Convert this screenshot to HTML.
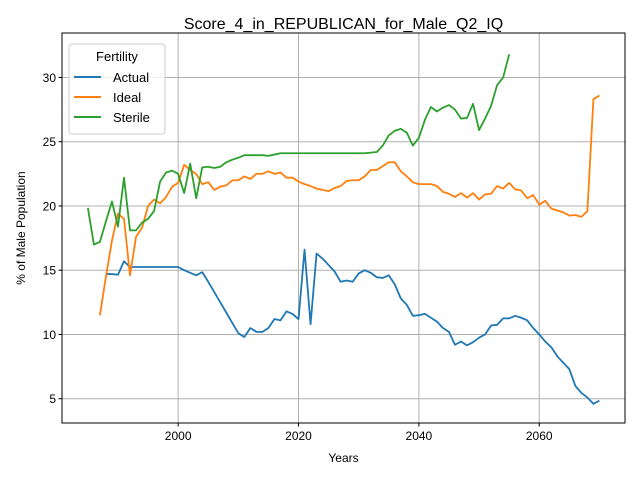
<!DOCTYPE html>
<html><head><meta charset="utf-8"><style>
html,body{margin:0;padding:0;background:#fff;}
svg{display:block;font-family:"Liberation Sans","DejaVu Sans",sans-serif;}
</style></head><body>
<svg id="chart" width="640" height="480" viewBox="0 0 640 480">
<rect width="640" height="480" fill="#fff"/>
<text x="343.5" y="29" text-anchor="middle" font-size="16">Score_4_in_REPUBLICAN_for_Male_Q2_IQ</text>
<g id="grid"></g>
<g id="series"></g>
<rect x="62" y="33" width="563" height="390" fill="none" stroke="#000" stroke-width="1"/>
<g id="ticks"></g>
<text x="343.5" y="462" text-anchor="middle" font-size="12">Years</text>
<text x="0" y="0" transform="translate(25,228) rotate(-90)" text-anchor="middle" font-size="12">% of Male Population</text>
<g>
<rect x="69" y="44" width="96" height="90" rx="3" fill="#fff" fill-opacity="0.8" stroke="#ccc"/>
<text x="117" y="61" text-anchor="middle" font-size="13">Fertility</text>
<line x1="74" y1="77" x2="101" y2="77" stroke="#1f77b4" stroke-width="2"/>
<text x="113" y="82" font-size="13">Actual</text>
<line x1="74" y1="97" x2="101" y2="97" stroke="#ff7f0e" stroke-width="2"/>
<text x="113" y="102" font-size="13">Ideal</text>
<line x1="74" y1="117" x2="101" y2="117" stroke="#2ca02c" stroke-width="2"/>
<text x="113" y="122" font-size="13">Sterile</text>
</g>
</svg>
<script>
const xTicks=[2000,2020,2040,2060];
const yTicks=[5,10,15,20,25,30];
const actualStart=1988;
const actualValues=[14.7,14.7,14.65,15.7,15.25,15.25,15.25,15.25,15.25,15.25,15.25,15.25,15.25,15.0,14.8,14.6,14.85,14.1,13.3,12.5,11.7,10.9,10.1,9.8,10.5,10.2,10.2,10.5,11.2,11.1,11.8,11.6,11.2,16.6,10.8,16.3,15.9,15.4,14.9,14.1,14.2,14.1,14.75,15.0,14.8,14.45,14.4,14.6,13.9,12.8,12.3,11.45,11.5,11.6,11.3,11.0,10.5,10.2,9.2,9.45,9.15,9.4,9.75,10.0,10.7,10.75,11.25,11.25,11.45,11.3,11.1,10.5,10.0,9.45,9.0,8.3,7.8,7.3,6.0,5.45,5.1,4.6,4.85];
const idealStart=1987;
const idealValues=[11.5,14.5,17.3,19.4,19.0,14.6,17.6,18.3,20.0,20.5,20.2,20.7,21.5,21.8,23.2,22.8,22.5,21.7,21.85,21.25,21.5,21.6,22.0,22.0,22.3,22.1,22.5,22.5,22.7,22.5,22.6,22.2,22.2,21.9,21.7,21.55,21.35,21.25,21.15,21.4,21.55,21.95,22.0,22.0,22.3,22.8,22.8,23.1,23.4,23.4,22.7,22.3,21.85,21.7,21.7,21.7,21.55,21.1,20.95,20.7,21.0,20.65,21.0,20.5,20.9,20.95,21.55,21.35,21.8,21.3,21.2,20.6,20.85,20.1,20.4,19.8,19.65,19.5,19.25,19.3,19.15,19.6,28.3,28.6];
const sterileStart=1985;
const sterileValues=[19.85,17.0,17.2,18.8,20.35,18.4,22.2,18.1,18.1,18.7,19.0,19.6,21.9,22.6,22.75,22.5,21.0,23.3,20.6,23.0,23.05,22.95,23.05,23.4,23.6,23.75,23.95,23.95,23.95,23.95,23.9,24.0,24.1,24.1,24.1,24.1,24.1,24.1,24.1,24.1,24.1,24.1,24.1,24.1,24.1,24.1,24.1,24.15,24.2,24.7,25.5,25.85,26.0,25.7,24.7,25.3,26.7,27.7,27.35,27.65,27.85,27.5,26.8,26.85,27.95,25.9,26.8,27.8,29.4,30.0,31.8];

const L=62,R=625,T=33,B=423;
const xMin=1980.7,xMax=2074.25,yMin=3.11,yMax=33.46;
function xs(v){return L+(v-xMin)/(xMax-xMin)*(R-L);}
function ys(v){return B-(v-yMin)/(yMax-yMin)*(B-T);}
const NS='http://www.w3.org/2000/svg';
const grid=document.getElementById('grid'),ticks=document.getElementById('ticks'),series=document.getElementById('series');
function mk(tag,attrs,parent){const e=document.createElementNS(NS,tag);for(const k in attrs)e.setAttribute(k,attrs[k]);parent.appendChild(e);return e;}
xTicks.forEach(t=>{const x=xs(t);
 const g=mk('line',{x1:x,x2:x,y1:T,y2:B,stroke:'#b0b0b0','stroke-width':1},grid);
 
 
 mk('line',{x1:x,x2:x,y1:B,y2:B+3.5,stroke:'#000'},ticks);
 const tx=mk('text',{x:x,y:B+17,'text-anchor':'middle','font-size':12},ticks);tx.textContent=t;
 
 
});
yTicks.forEach(t=>{const y=ys(t);
 const g=mk('line',{x1:L,x2:R,y1:y,y2:y,stroke:'#b0b0b0','stroke-width':1},grid);
 
 
 mk('line',{x1:L-3.5,x2:L,y1:y,y2:y,stroke:'#000'},ticks);
 const tx=mk('text',{x:L-6,y:y+4.5,'text-anchor':'end','font-size':12},ticks);tx.textContent=t;
 
 
});
function line(start,vals,color,name){
 const d=vals.map((v,i)=>(i?'L':'M')+xs(start+i).toFixed(2)+','+ys(v).toFixed(2)).join('');
 const p=mk('path',{d:d,fill:'none',stroke:color,'stroke-width':1.8,'stroke-linejoin':'round'},series);
 
 
}
line(actualStart,actualValues,'#1f77b4','actual-line');
line(idealStart,idealValues,'#ff7f0e','ideal-line');
line(sterileStart,sterileValues,'#2ca02c','sterile-line');
</script>
</body></html>
